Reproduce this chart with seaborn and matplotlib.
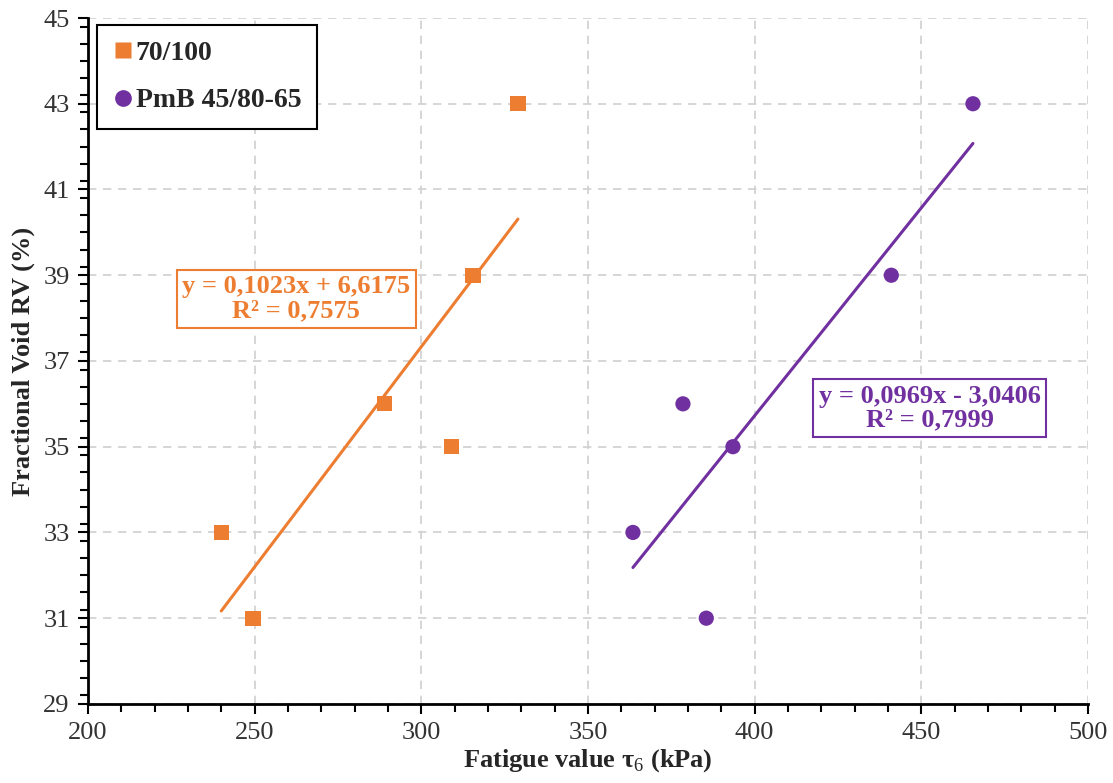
import numpy as np
import pandas as pd
import matplotlib
matplotlib.use("Agg")
import matplotlib.pyplot as plt
from matplotlib.ticker import MultipleLocator
import seaborn as sns

# Data
x_7010 = [240, 249.5, 289, 309, 315.5, 329]
y_7010 = [33, 31, 36, 35, 39, 43]
x_pmb = [363.5, 378.5, 385.5, 393.5, 441, 465.5]
y_pmb = [33, 36, 31, 35, 39, 43]
series_names = ["70/100", "PmB 45/80-65"]
eq_texts = ["y = 0,1023x + 6,6175\nR² = 0,7575", "y = 0,0969x - 3,0406\nR² = 0,7999"]
x_ticks = [200, 250, 300, 350, 400, 450, 500]
y_ticks = [29, 31, 33, 35, 37, 39, 41, 43, 45]

colors = ["#ED7D31", "#7030A0"]

df = pd.DataFrame({
    "x": x_7010 + x_pmb,
    "y": y_7010 + y_pmb,
    "series": [series_names[0]] * len(x_7010) + [series_names[1]] * len(x_pmb),
})

sns.set_style("white")
plt.rcParams["font.family"] = ["Liberation Serif", "DejaVu Serif"]
plt.rcParams["mathtext.fontset"] = "custom"
plt.rcParams["mathtext.rm"] = "Liberation Serif"
plt.rcParams["mathtext.bf"] = "Liberation Serif:bold"

fig = plt.figure(figsize=(11.13, 7.83), dpi=100)
ax = fig.add_axes([0.079, 0.101, 0.8985, 0.876])

for i, name in enumerate(series_names):
    sub = df[df["series"] == name]
    sns.regplot(data=sub, x="x", y="y", scatter=False, ci=None, ax=ax,
                line_kws=dict(color=colors[i], lw=2.2), truncate=True)

sns.scatterplot(data=df, x="x", y="y", hue="series", style="series",
                palette=dict(zip(series_names, colors)),
                markers={series_names[0]: "s", series_names[1]: "o"},
                s=120, edgecolor="none", ax=ax, zorder=5)

ax.set_xlim(200, 500)
ax.set_ylim(29, 45)
ax.set_xticks(x_ticks)
ax.set_yticks(y_ticks)
ax.xaxis.set_minor_locator(MultipleLocator(10))
ax.yaxis.set_minor_locator(MultipleLocator(0.4))
ax.grid(True, which="major", color="#d0d0d0", linestyle=(0, (5, 4)), lw=1.2)
ax.set_axisbelow(True)

for s in ["top", "right"]:
    ax.spines[s].set_visible(False)
for s in ["left", "bottom"]:
    ax.spines[s].set_color("black")
    ax.spines[s].set_linewidth(2)

ax.tick_params(axis="both", which="both", bottom=True, left=True, top=False, right=False)
ax.tick_params(axis="both", which="major", direction="out", length=7, width=1.5,
               color="black", labelsize=19, labelcolor="#333333", pad=6)
ax.tick_params(axis="both", which="minor", direction="out", length=6, width=1.5, color="black")

ax.set_xlabel("Fatigue value τ$_6$ (kPa)", fontsize=19, fontweight="bold", labelpad=2)
ax.set_ylabel("Fractional Void RV (%)", fontsize=19, fontweight="bold", labelpad=6)

leg = ax.legend(loc="upper left", bbox_to_anchor=(0.009, 0.99), frameon=True,
                fancybox=False, edgecolor="black", framealpha=1,
                prop=dict(size=20, weight="bold"), handletextpad=0.05,
                handlelength=0.8, labelspacing=0.8, borderpad=0.55,
                borderaxespad=0.0, markerscale=1.1)
leg.get_frame().set_linewidth(1.5)

pos = [(262.5, 38.45), (452.5, 35.9)]
for i in range(2):
    ax.text(pos[i][0], pos[i][1], eq_texts[i], color=colors[i], fontsize=19,
            fontweight="bold", ha="center", va="center", linespacing=1.05,
            bbox=dict(boxstyle="square,pad=0.2", fc="white", ec=colors[i], lw=1.5),
            zorder=6)

fig.savefig("out.png", dpi=100)
